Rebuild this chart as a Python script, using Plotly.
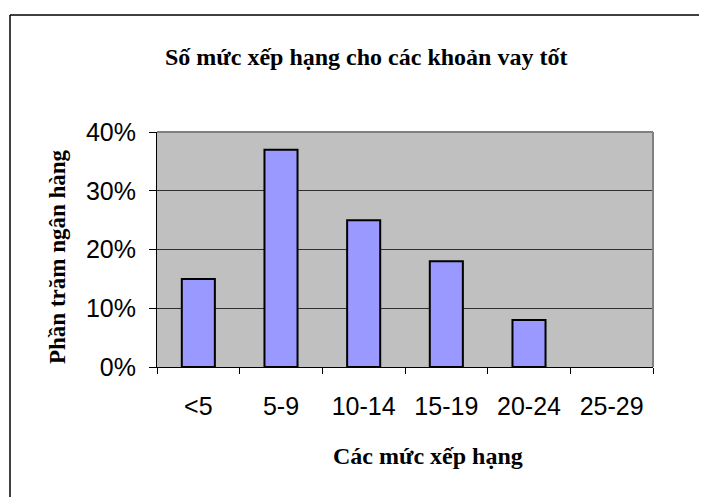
import plotly.graph_objects as go

categories = ["<5", "5-9", "10-14", "15-19", "20-24", "25-29"]
values = [0.15, 0.37, 0.25, 0.18, 0.08, 0.0]
y_ticks = [0, 0.1, 0.2, 0.3, 0.4]

# page is rendered with an 8px body margin; work in page pixels and offset
OFF = 8
W, H = 707 - OFF, 497 - OFF
L, R, T, B = 157 - OFF, 653 - OFF, 132 - OFF, 367 - OFF


def px(x):
    return (x - OFF - L) / (R - L)


def py(y):
    return (B - (y - OFF)) / (B - T)


fig = go.Figure(go.Bar(
    x=categories, y=values,
    marker=dict(color="#9999FF",
                line=dict(color="black", width=[2 if v > 0 else 0 for v in values])),
    hoverinfo="x+y",
))

serif = "Liberation Serif, Times New Roman, serif"
sans = "Liberation Sans, Arial, sans-serif"

fig.update_layout(
    width=W, height=H,
    margin=dict(l=L, r=W - R, t=T, b=H - B),
    paper_bgcolor="white",
    plot_bgcolor="#C0C0C0",
    bargap=0.6,
    showlegend=False,
    xaxis=dict(
        type="category",
        showline=True, linecolor="black", linewidth=1,
        ticks="outside", ticklen=6, tickcolor="black", tickson="boundaries",
        tickfont=dict(family=sans, size=25, color="black"),
        ticklabelstandoff=17,
        showgrid=False,
    ),
    yaxis=dict(
        range=[0, 0.4], tickvals=y_ticks, tickformat=".0%",
        showline=True, linecolor="black", linewidth=1,
        ticks="outside", ticklen=7, tickcolor="black",
        tickfont=dict(family=sans, size=25, color="black"),
        ticklabelstandoff=8,
        showgrid=True, gridcolor="#303030", gridwidth=1,
        zeroline=False,
    ),
    annotations=[
        dict(text="<b>Số mức xếp hạng cho các khoản vay tốt</b>",
             xref="paper", yref="paper", x=px(366), y=py(57),
             xanchor="center", yanchor="middle",
             showarrow=False, font=dict(family=serif, size=24, color="black")),
        dict(text="<b>Các mức xếp hạng</b>",
             xref="paper", yref="paper", x=px(428), y=py(456),
             xanchor="center", yanchor="middle",
             showarrow=False, font=dict(family=serif, size=24, color="black")),
        dict(text="<b>Phần trăm ngân hàng</b>", textangle=-90,
             xref="paper", yref="paper", x=px(57), y=py(257),
             xanchor="center", yanchor="middle",
             showarrow=False, font=dict(family=serif, size=23, color="black")),
    ],
    shapes=[
        dict(type="line", xref="paper", yref="paper", x0=0, x1=1, y0=1, y1=1,
             line=dict(color="#808080", width=2), layer="above"),
        dict(type="line", xref="paper", yref="paper", x0=1, x1=1, y0=0, y1=1,
             line=dict(color="#808080", width=2), layer="above"),
        # chart frame: top and left edges (others lie outside the view)
        dict(type="line", xref="paper", yref="paper",
             x0=px(10), x1=px(707), y0=py(15), y1=py(15),
             line=dict(color="black", width=1.5), layer="below"),
        dict(type="line", xref="paper", yref="paper",
             x0=px(10), x1=px(10), y0=py(15), y1=py(497),
             line=dict(color="black", width=1.5), layer="below"),
    ],
)

fig.write_html("out.html")
